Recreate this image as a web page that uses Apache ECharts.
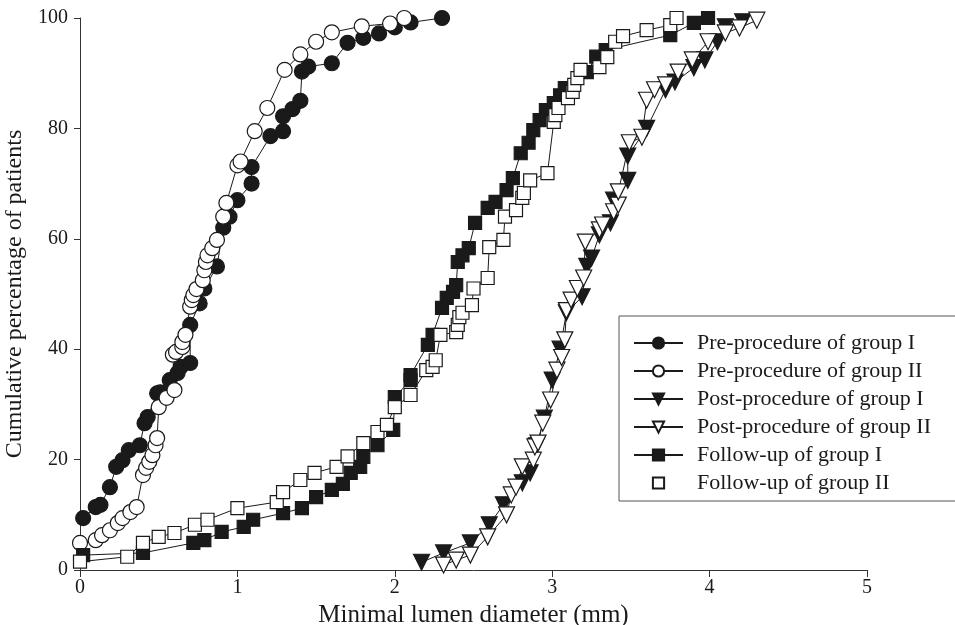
<!DOCTYPE html>
<html>
<head>
<meta charset="utf-8">
<script src="https://cdn.jsdelivr.net/npm/echarts@6/dist/echarts.min.js"></script>
<style>
  html, body { margin: 0; padding: 0; background: #fff; }
  #chart { width: 955px; height: 625px; }
</style>
</head>
<body>
<div id="chart"></div>
<script>
// series names
var seriesNames = [
  "Pre-procedure of group I",
  "Pre-procedure of group II",
  "Post-procedure of group I",
  "Post-procedure of group II",
  "Follow-up of group I",
  "Follow-up of group II"
];

// [diameter mm, cumulative %]
var preGroup1 = [
  [0.02, 9.4], [0.1, 11.4], [0.13, 11.8], [0.19, 15], [0.23, 18.7], [0.27, 19.9],
  [0.31, 21.7], [0.38, 22.6], [0.41, 26.6], [0.43, 27.7], [0.49, 32], [0.51, 32.2],
  [0.57, 34.4], [0.62, 35.7], [0.64, 36.8], [0.7, 37.5], [0.7, 44.4], [0.76, 48.3],
  [0.79, 51], [0.87, 55], [0.91, 62], [0.95, 64], [1.0, 67], [1.09, 70], [1.09, 73],
  [1.21, 78.6], [1.29, 79.5], [1.29, 82.2], [1.35, 83.5], [1.4, 85], [1.41, 90.3],
  [1.45, 91.2], [1.6, 91.8], [1.7, 95.5], [1.8, 96.4], [1.9, 97.2], [2.0, 98.3],
  [2.1, 99.2], [2.3, 100]
];
var preGroup2 = [
  [0, 4.9], [0.1, 5.4], [0.14, 6.3], [0.19, 7.2], [0.24, 8.5], [0.27, 9.4],
  [0.32, 10.5], [0.36, 11.4], [0.4, 17.2], [0.42, 18.5], [0.44, 19.6], [0.46, 20.8],
  [0.48, 22.6], [0.49, 23.9], [0.5, 29.5], [0.55, 31.2], [0.6, 32.6], [0.59, 39],
  [0.61, 39.5], [0.65, 40.4], [0.65, 41.3], [0.67, 42.6], [0.7, 47.7], [0.71, 48.9],
  [0.72, 49.8], [0.74, 50.9], [0.78, 52.5], [0.79, 54.3], [0.8, 55.8], [0.81, 57],
  [0.84, 58.3], [0.87, 59.8], [0.91, 64], [0.93, 66.5], [1.0, 73.3], [1.02, 74],
  [1.11, 79.5], [1.19, 83.7], [1.3, 90.6], [1.4, 93.4], [1.5, 95.7], [1.6, 97.4],
  [1.79, 98.5], [1.97, 99], [2.06, 100]
];
var postGroup1 = [
  [2.17, 1.4], [2.31, 3.1], [2.48, 4.9], [2.6, 8.2], [2.69, 11.8], [2.81, 15.8],
  [2.86, 17.6], [2.9, 22.5], [2.95, 27.5], [3.0, 34.4], [3.05, 40], [3.09, 46.6],
  [3.19, 49.5], [3.22, 55], [3.25, 56.5], [3.3, 60.7], [3.37, 62.9], [3.39, 67],
  [3.48, 70.6], [3.48, 75], [3.6, 80], [3.72, 87], [3.78, 88.4], [3.9, 91],
  [3.97, 92.4], [4.05, 95.7], [4.1, 98.4], [4.21, 99.3]
];
var postGroup2 = [
  [2.31, 0.9], [2.39, 1.8], [2.48, 2.7], [2.59, 6], [2.71, 10], [2.74, 13.6],
  [2.77, 15], [2.81, 18.7], [2.88, 19.9], [2.89, 22.3], [2.91, 23], [2.94, 26.6],
  [2.99, 30.8], [3.03, 36.2], [3.06, 38.5], [3.08, 41.7], [3.09, 47], [3.12, 48.9],
  [3.16, 51], [3.2, 52.9], [3.21, 59.4], [3.3, 61.6], [3.32, 62.5], [3.39, 64.9],
  [3.42, 66.1], [3.42, 68.5], [3.49, 77.4], [3.57, 78.4], [3.6, 85.1], [3.65, 87],
  [3.72, 87.9], [3.8, 90.2], [3.89, 92.4], [3.99, 95.7], [4.1, 97.3], [4.19, 98.2],
  [4.3, 99.6]
];
var followGroup1 = [
  [0.02, 2.7], [0.4, 3.1], [0.72, 4.9], [0.79, 5.4], [0.9, 6.9], [1.04, 7.8],
  [1.1, 9.1], [1.29, 10.3], [1.41, 11.2], [1.5, 13.2], [1.6, 14.5], [1.67, 15.6],
  [1.72, 17.6], [1.78, 18.7], [1.8, 20.5], [1.89, 22.6], [1.99, 25.4], [2.0, 31.3],
  [2.1, 34.4], [2.1, 35.3], [2.21, 40.8], [2.24, 42.6], [2.3, 47.5], [2.33, 49.3],
  [2.37, 50.4], [2.39, 51.6], [2.4, 55.8], [2.43, 57], [2.47, 58.3], [2.51, 62.9],
  [2.59, 65.6], [2.64, 66.7], [2.71, 68.8], [2.75, 71], [2.8, 75.5], [2.85, 77.4],
  [2.88, 79.7], [2.92, 81.5], [2.96, 83.3], [3.01, 84.6], [3.05, 86], [3.08, 87.3],
  [3.22, 90.2], [3.28, 93], [3.34, 94.2], [3.75, 96.9], [3.9, 99.1], [3.99, 100]
];
var followGroup2 = [
  [0, 1.5], [0.3, 2.4], [0.4, 4.9], [0.5, 6], [0.6, 6.7], [0.73, 8.2], [0.81, 9.1],
  [1.0, 11.2], [1.25, 12.3], [1.29, 14.1], [1.4, 16.3], [1.49, 17.6], [1.63, 18.7],
  [1.7, 20.6], [1.8, 23], [1.89, 25], [1.95, 26.3], [2.0, 29.5], [2.1, 31.7],
  [2.2, 36.2], [2.24, 36.8], [2.26, 38], [2.29, 42.6], [2.39, 43.1], [2.4, 44.4],
  [2.41, 45.8], [2.43, 46.6], [2.49, 48], [2.5, 51], [2.59, 52.9], [2.6, 58.5],
  [2.69, 59.8], [2.7, 64], [2.77, 65.2], [2.81, 67.4], [2.82, 68.3], [2.86, 70.6],
  [2.97, 71.9], [3.01, 81.2], [3.02, 82.4], [3.04, 83.7], [3.1, 85.5], [3.13, 86.6],
  [3.14, 87.9], [3.16, 89.1], [3.18, 90.6], [3.3, 91.1], [3.35, 92.9], [3.4, 95.7],
  [3.45, 96.7], [3.6, 97.8], [3.75, 98.7], [3.79, 100]
];

var xTicks = [0, 1, 2, 3, 4, 5];
var yTicks = [0, 20, 40, 60, 80, 100];

var ink = "#1a1a1a";
var font = "Liberation Serif";

function makeSeries(name, data, symbol, filled, rotate, size) {
  return {
    name: name,
    type: "line",
    data: data,
    symbol: symbol,
    symbolSize: size,
    symbolRotate: rotate,
    showAllSymbol: true,
    lineStyle: { color: ink, width: 1 },
    itemStyle: {
      color: filled ? ink : "#fff",
      borderColor: ink,
      borderWidth: 1.2
    },
    emphasis: { disabled: true },
    animation: false
  };
}

var chart = echarts.init(document.getElementById("chart"));
chart.setOption({
  backgroundColor: "#fff",
  textStyle: { fontFamily: font, color: ink },
  grid: { left: 80, right: 88, top: 18, bottom: 55, containLabel: false, outerBoundsMode: "none" },
  legend: {
    orient: "vertical",
    left: 619,
    top: 316,
    padding: [16, 60, 7, 14],
    itemWidth: 49,
    itemHeight: 14,
    itemGap: 6,
    borderColor: "#555",
    borderWidth: 1,
    textStyle: { fontFamily: font, fontSize: 22, color: ink, padding: [0, 0, 0, 9] },
    data: seriesNames.map(function (n, i) {
      if (i === 5) return { name: n, lineStyle: { width: 0, opacity: 0 } };
      return { name: n };
    })
  },
  xAxis: {
    type: "value",
    min: xTicks[0],
    max: xTicks[xTicks.length - 1],
    interval: 1,
    name: "Minimal lumen diameter (mm)",
    nameLocation: "middle",
    nameGap: 24,
    nameTextStyle: { fontFamily: font, fontSize: 25, color: ink },
    axisLine: { show: true, lineStyle: { color: "#333", width: 1 } },
    axisTick: { show: true, length: 7, lineStyle: { color: "#333" } },
    axisLabel: { fontFamily: font, fontSize: 20, color: ink, margin: 8 },
    splitLine: { show: false }
  },
  yAxis: {
    type: "value",
    min: yTicks[0],
    max: yTicks[yTicks.length - 1],
    interval: 20,
    name: "Cumulative percentage of patients",
    nameLocation: "middle",
    nameGap: 46,
    nameTextStyle: { fontFamily: font, fontSize: 24, color: ink },
    axisLine: { show: true, lineStyle: { color: "#333", width: 1 } },
    axisTick: { show: true, length: 6, lineStyle: { color: "#333" } },
    axisLabel: { fontFamily: font, fontSize: 20, color: ink, margin: 12 },
    splitLine: { show: false }
  },
  series: [
    makeSeries(seriesNames[0], preGroup1, "circle", true, 0, 15),
    makeSeries(seriesNames[1], preGroup2, "circle", false, 0, 15),
    makeSeries(seriesNames[2], postGroup1, "triangle", true, 180, 16),
    makeSeries(seriesNames[3], postGroup2, "triangle", false, 180, 16),
    makeSeries(seriesNames[4], followGroup1, "rect", true, 0, 13),
    makeSeries(seriesNames[5], followGroup2, "rect", false, 0, 13)
  ]
});
</script>
</body>
</html>
